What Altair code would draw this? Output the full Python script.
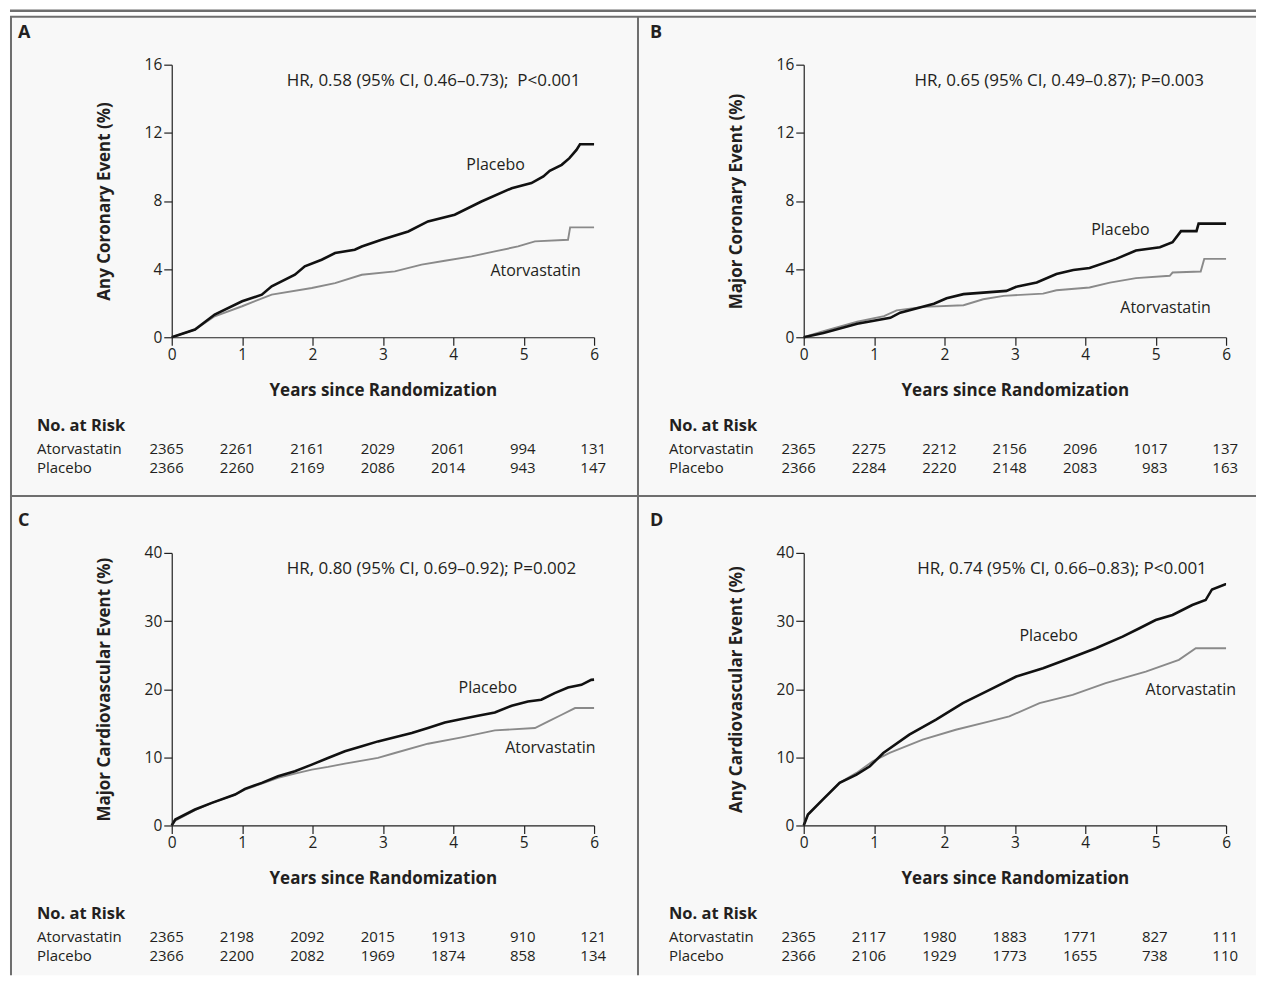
import altair as alt
import pandas as pd

FONT = "Open Sans"
TXT = "#231f20"
PLACEBO_COLOR = "#111111"
ATORVA_COLOR = "#8a8a8a"
FRAME = "#6e6e6e"
BG = "#f8f8f8"

YEAR_TICKS = [0, 1, 2, 3, 4, 5, 6]

# ---------------- Panel A ----------------
a_plc_t = [0, 0.33, 0.61, 1.0, 1.28, 1.42, 1.75, 1.89, 2.13, 2.32, 2.6, 2.7, 2.98, 3.36, 3.64, 4.02, 4.4, 4.83, 5.11, 5.28, 5.37, 5.54, 5.65, 5.75, 5.8, 6.0]
a_plc_v = [0, 0.45, 1.33, 2.11, 2.5, 2.99, 3.67, 4.16, 4.55, 4.94, 5.14, 5.33, 5.72, 6.21, 6.8, 7.19, 7.97, 8.75, 9.05, 9.44, 9.77, 10.12, 10.51, 11.0, 11.33, 11.33]
a_ato_t = [0, 0.33, 0.61, 1.0, 1.42, 1.99, 2.32, 2.7, 3.17, 3.55, 3.88, 4.26, 4.59, 4.92, 5.16, 5.63, 5.66, 6.0]
a_ato_v = [0, 0.45, 1.23, 1.82, 2.5, 2.89, 3.18, 3.67, 3.87, 4.26, 4.49, 4.75, 5.04, 5.33, 5.63, 5.72, 6.45, 6.45]
a_risk_ato = [2365, 2261, 2161, 2029, 2061, 994, 131]
a_risk_plc = [2366, 2260, 2169, 2086, 2014, 943, 147]

# ---------------- Panel B ----------------
b_plc_t = [0, 0.28, 0.76, 1.23, 1.37, 1.85, 2.03, 2.27, 2.88, 3.02, 3.31, 3.59, 3.83, 4.06, 4.44, 4.72, 5.06, 5.24, 5.36, 5.58, 5.61, 6.0]
b_plc_v = [0, 0.25, 0.79, 1.14, 1.44, 1.97, 2.29, 2.53, 2.72, 2.96, 3.21, 3.71, 3.95, 4.07, 4.6, 5.09, 5.28, 5.58, 6.23, 6.23, 6.67, 6.67]
b_ato_t = [0, 0.28, 0.76, 1.14, 1.32, 1.7, 2.27, 2.55, 2.84, 3.4, 3.59, 4.06, 4.35, 4.72, 5.2, 5.24, 5.64, 5.69, 6.0]
b_ato_v = [0, 0.36, 0.91, 1.24, 1.58, 1.78, 1.88, 2.23, 2.43, 2.56, 2.76, 2.92, 3.21, 3.47, 3.61, 3.8, 3.86, 4.6, 4.6]
b_risk_ato = [2365, 2275, 2212, 2156, 2096, 1017, 137]
b_risk_plc = [2366, 2284, 2220, 2148, 2083, 983, 163]

# ---------------- Panel C ----------------
c_plc_t = [0, 0.05, 0.33, 0.57, 0.9, 1.04, 1.28, 1.51, 1.75, 1.99, 2.22, 2.46, 2.7, 2.93, 3.17, 3.41, 3.64, 3.88, 4.12, 4.35, 4.59, 4.83, 5.06, 5.25, 5.44, 5.63, 5.82, 5.96, 6.0]
c_plc_v = [0, 0.88, 2.34, 3.32, 4.54, 5.37, 6.25, 7.22, 7.95, 8.93, 9.91, 10.88, 11.61, 12.34, 12.93, 13.57, 14.3, 15.12, 15.62, 16.1, 16.59, 17.57, 18.2, 18.45, 19.43, 20.25, 20.64, 21.37, 21.4]
c_ato_t = [0, 0.05, 0.33, 0.57, 0.9, 1.04, 1.28, 1.51, 1.75, 1.99, 2.22, 2.46, 2.93, 3.17, 3.64, 4.12, 4.59, 5.16, 5.35, 5.54, 5.73, 6.0]
c_ato_v = [0, 0.7, 2.24, 3.32, 4.54, 5.27, 6.15, 7.0, 7.6, 8.2, 8.59, 9.08, 9.91, 10.64, 12.0, 12.93, 13.95, 14.3, 15.27, 16.25, 17.23, 17.23]
c_risk_ato = [2365, 2198, 2092, 2015, 1913, 910, 121]
c_risk_plc = [2366, 2200, 2082, 1969, 1874, 858, 134]

# ---------------- Panel D ----------------
d_plc_t = [0, 0.06, 0.27, 0.51, 0.75, 0.94, 1.13, 1.5, 1.88, 2.26, 2.64, 3.02, 3.4, 3.78, 4.15, 4.53, 4.77, 5.0, 5.24, 5.52, 5.71, 5.8, 5.99, 6.0]
d_plc_v = [0, 1.61, 3.8, 6.25, 7.47, 8.69, 10.64, 13.32, 15.52, 17.96, 19.9, 21.85, 23.08, 24.54, 26.0, 27.71, 28.94, 30.15, 30.89, 32.35, 33.08, 34.64, 35.4, 35.4]
d_ato_t = [0, 0.06, 0.27, 0.51, 0.75, 0.98, 1.22, 1.69, 2.16, 2.64, 2.92, 3.35, 3.82, 4.29, 4.86, 5.33, 5.57, 6.0]
d_ato_v = [0, 1.61, 3.8, 6.25, 7.71, 9.41, 10.64, 12.59, 14.05, 15.27, 16.0, 17.96, 19.17, 20.88, 22.59, 24.3, 26.0, 26.0]
d_risk_ato = [2365, 2117, 1980, 1883, 1771, 827, 111]
d_risk_plc = [2366, 2106, 1929, 1773, 1655, 738, 110]

W, H = 423, 273


def panel(letter, ytitle, ymax, yticks, plc_t, plc_v, ato_t, ato_v, plc_lab, ato_lab,
          hr, hr_pos, risk_ato, risk_plc, frame=False):
    xs = alt.Scale(domain=[0, 6], nice=False)
    ys = alt.Scale(domain=[0, ymax], nice=False)
    one = pd.DataFrame({"k": [0]})
    df_ato = pd.DataFrame({"t": ato_t, "v": ato_v})
    df_plc = pd.DataFrame({"t": plc_t, "v": plc_v})
    xenc = alt.X("t:Q", scale=xs, title="Years since Randomization",
                 axis=alt.Axis(values=YEAR_TICKS, format="d", zindex=1))
    yenc = alt.Y("v:Q", scale=ys, title=ytitle,
                 axis=alt.Axis(values=yticks, format="d", zindex=1))

    layers = []
    if frame:
        layers.append(alt.Chart(one).mark_rect(color=BG).encode(
            x=alt.value(-162), x2=alt.value(1086), y=alt.value(-47), y2=alt.value(912)))
        rules = [
            dict(x=-162, x2=1086, y=-54, w=2.5),
            dict(x=-162, x2=1086, y=-48, w=2),
            dict(x=-162, x2=1086, y=432, w=2),
        ]
        for r in rules:
            layers.append(alt.Chart(one).mark_rule(color=FRAME, strokeWidth=r["w"]).encode(
                x=alt.value(r["x"]), x2=alt.value(r["x2"]), y=alt.value(r["y"])))
        for xv in [-161, 467]:
            layers.append(alt.Chart(one).mark_rule(color=FRAME, strokeWidth=2).encode(
                x=alt.value(xv), y=alt.value(-48), y2=alt.value(912)))

    layers.append(alt.Chart(df_ato).mark_line(color=ATORVA_COLOR, strokeWidth=1.9).encode(x=xenc, y=yenc))
    layers.append(alt.Chart(df_plc).mark_line(color=PLACEBO_COLOR, strokeWidth=2.6).encode(x=xenc, y=yenc))

    labs = pd.DataFrame({"t": [plc_lab[0], ato_lab[0]], "v": [plc_lab[1], ato_lab[1]],
                         "s": ["Placebo", "Atorvastatin"]})
    layers.append(alt.Chart(labs).mark_text(font=FONT, fontSize=16, color=TXT).encode(
        x=alt.X("t:Q", scale=xs), y=alt.Y("v:Q", scale=ys), text="s:N"))

    hrdf = pd.DataFrame({"t": [hr_pos[0]], "v": [hr_pos[1]], "s": [hr]})
    layers.append(alt.Chart(hrdf).mark_text(font=FONT, fontSize=17, color=TXT).encode(
        x=alt.X("t:Q", scale=xs), y=alt.Y("v:Q", scale=ys), text="s:N"))

    layers.append(alt.Chart(pd.DataFrame({"s": [letter]})).mark_text(
        font=FONT, fontSize=18, fontWeight="bold", color=TXT, align="left", baseline="middle").encode(
        x=alt.value(-154), y=alt.value(-32), text="s:N"))

    layers.append(alt.Chart(pd.DataFrame({"s": ["No. at Risk"]})).mark_text(
        font=FONT, fontSize=16.5, fontWeight="bold", color=TXT, align="left", baseline="middle").encode(
        x=alt.value(-135), y=alt.value(H + 89), text="s:N"))
    for i, (name, vals) in enumerate([("Atorvastatin", risk_ato), ("Placebo", risk_plc)]):
        yy = H + 112 + i * 19
        layers.append(alt.Chart(pd.DataFrame({"s": [name]})).mark_text(
            font=FONT, fontSize=15, color=TXT, align="left", baseline="middle").encode(
            x=alt.value(-135), y=alt.value(yy), text="s:N"))
        rdf = pd.DataFrame({"t": YEAR_TICKS, "n": [str(v) for v in vals]})
        layers.append(alt.Chart(rdf).mark_text(
            font=FONT, fontSize=15, color=TXT, align="right", baseline="middle", dx=12).encode(
            x=alt.X("t:Q", scale=xs), y=alt.value(yy), text="n:N"))

    return alt.layer(*layers).properties(width=W, height=H)


pA = panel("A", "Any Coronary Event (%)", 16, [0, 4, 8, 12, 16], a_plc_t, a_plc_v, a_ato_t, a_ato_v,
           (4.6, 10.14), (5.17, 3.87), "HR, 0.58 (95% CI, 0.46–0.73);\u00a0 P<0.001", (3.72, 15.06),
           a_risk_ato, a_risk_plc, frame=True)
pB = panel("B", "Major Coronary Event (%)", 16, [0, 4, 8, 12, 16], b_plc_t, b_plc_v, b_ato_t, b_ato_v,
           (4.5, 6.27), (5.14, 1.72), "HR, 0.65 (95% CI, 0.49–0.87); P=0.003", (3.63, 15.06),
           b_risk_ato, b_risk_plc)
pC = panel("C", "Major Cardiovascular Event (%)", 40, [0, 10, 20, 30, 40], c_plc_t, c_plc_v, c_ato_t, c_ato_v,
           (4.49, 20.2), (5.38, 11.4), "HR, 0.80 (95% CI, 0.69–0.92); P=0.002", (3.69, 37.7),
           c_risk_ato, c_risk_plc)
pD = panel("D", "Any Cardiovascular Event (%)", 40, [0, 10, 20, 30, 40], d_plc_t, d_plc_v, d_ato_t, d_ato_v,
           (3.48, 27.8), (5.5, 19.9), "HR, 0.74 (95% CI, 0.66–0.83); P<0.001", (3.67, 37.7),
           d_risk_ato, d_risk_plc)

chart = alt.concat(pA, pB, pC, pD, columns=2, spacing={"row": 216, "column": 210},
                   bounds="flush", padding=0, background="white").configure_view(
    stroke=None
).configure_axis(
    grid=False, domainColor="#222222", tickColor="#222222", domainWidth=1.2, tickWidth=1.2,
    tickSize=8, labelFont=FONT, labelFontSize=15.5, labelColor=TXT, titleFont=FONT,
    titleFontSize=17, titleFontWeight="bold", titleColor=TXT, labelPadding=2,
    labelFlush=False
).configure_axisX(titlePadding=20).configure_axisY(titlePadding=31)

chart.save("out.html", embed_options={"renderer": "svg", "actions": False})
